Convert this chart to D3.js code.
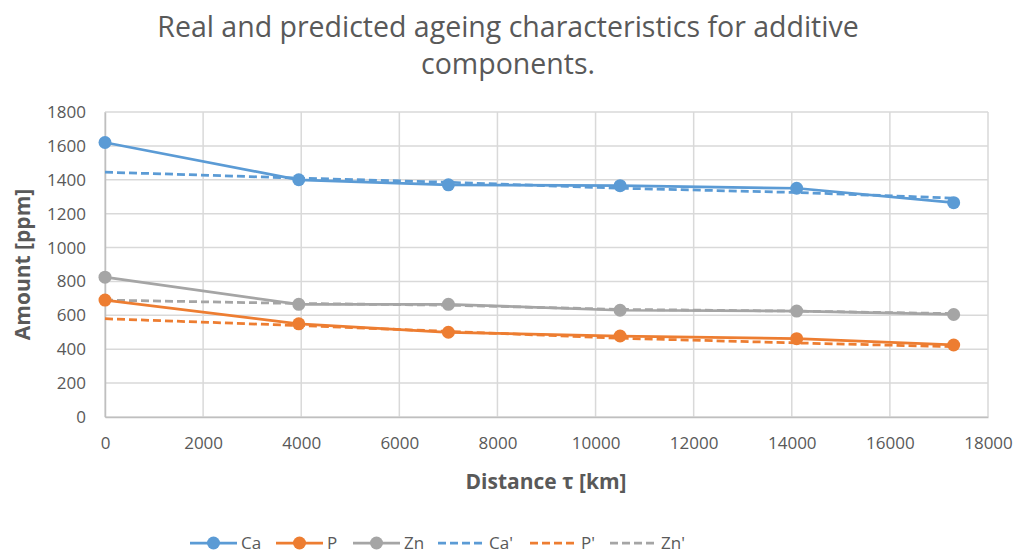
<!DOCTYPE html>
<html lang="en">
<head>
  <meta charset="UTF-8">
  <title>Real and predicted ageing characteristics</title>
  <script src="https://cdn.jsdelivr.net/npm/d3@7"></script>
  <style>
    body { margin: 0; background: #fff; }
    svg text { font-family: "Open Sans", "Liberation Sans", sans-serif; fill: #595959; }
  </style>
</head>
<body>
  <div id="chart"></div>
  <script>
    // distance in km
    const distances = [0, 3950, 7000, 10500, 14100, 17300];

    // measured amounts [ppm]
    const ca = [1620, 1400, 1370, 1365, 1350, 1265];
    const p = [690, 550, 500, 478, 462, 425];
    const zn = [825, 665, 665, 630, 625, 605];

    // predicted amounts [ppm]
    const caPred = [1445, 1410, 1385, 1350, 1325, 1292];
    const pPred = [580, 540, 505, 465, 437, 415];
    const znPred = [690, 670, 660, 635, 625, 610];

    const xTicks = [0, 2000, 4000, 6000, 8000, 10000, 12000, 14000, 16000, 18000];
    const yTicks = [0, 200, 400, 600, 800, 1000, 1200, 1400, 1600, 1800];

    const series = [
      { name: 'Ca', values: ca, color: '#5b9bd5', dashed: false },
      { name: 'P', values: p, color: '#ed7d31', dashed: false },
      { name: 'Zn', values: zn, color: '#a5a5a5', dashed: false },
      { name: "Ca'", values: caPred, color: '#5b9bd5', dashed: true },
      { name: "P'", values: pPred, color: '#ed7d31', dashed: true },
      { name: "Zn'", values: znPred, color: '#a5a5a5', dashed: true }
    ];

    const width = 1019, height = 555;
    const margin = { left: 105, right: 31, top: 112, bottom: 138 };

    const svg = d3.select('#chart').append('svg')
      .attr('width', width)
      .attr('height', height);

    const x = d3.scaleLinear().domain([0, 18000]).range([margin.left, width - margin.right]);
    const y = d3.scaleLinear().domain([0, 1800]).range([height - margin.bottom, margin.top]);

    // title
    const title = svg.append('text')
      .attr('text-anchor', 'middle')
      .attr('font-size', 28.5)
      .attr('x', 508);
    title.append('tspan').attr('x', 508).attr('y', 37).text('Real and predicted ageing characteristics for additive');
    title.append('tspan').attr('x', 508).attr('y', 74).text('components.');

    // gridlines
    svg.append('g')
      .selectAll('line')
      .data(yTicks)
      .join('line')
      .attr('x1', x(0)).attr('x2', x(18000))
      .attr('y1', d => y(d)).attr('y2', d => y(d))
      .attr('stroke', '#d9d9d9').attr('stroke-width', 1.5);

    svg.append('g')
      .selectAll('line')
      .data(xTicks)
      .join('line')
      .attr('y1', y(0)).attr('y2', y(1800))
      .attr('x1', d => x(d)).attr('x2', d => x(d))
      .attr('stroke', '#d9d9d9').attr('stroke-width', 1.5);

    // axes
    const xAxis = svg.append('g')
      .attr('transform', `translate(0,${y(0)})`)
      .call(d3.axisBottom(x).tickValues(xTicks).tickSize(0).tickPadding(20).tickFormat(d3.format('d')));
    xAxis.select('.domain').attr('stroke', '#bfbfbf').attr('stroke-width', 1.5);
    xAxis.selectAll('text').attr('font-size', 17);

    const yAxis = svg.append('g')
      .attr('transform', `translate(${x(0)},0)`)
      .call(d3.axisLeft(y).tickValues(yTicks).tickSize(0).tickPadding(19).tickFormat(d3.format('d')));
    yAxis.select('.domain').attr('stroke', '#bfbfbf').attr('stroke-width', 1.5);
    yAxis.selectAll('text').attr('font-size', 17);

    // axis titles
    svg.append('text')
      .attr('x', 546).attr('y', 489)
      .attr('text-anchor', 'middle')
      .attr('font-size', 21).attr('font-weight', 'bold')
      .text('Distance τ [km]');

    svg.append('text')
      .attr('transform', `translate(30,${(y(0) + y(1800)) / 2}) rotate(-90)`)
      .attr('text-anchor', 'middle')
      .attr('font-size', 21).attr('font-weight', 'bold')
      .text('Amount [ppm]');

    // lines
    const line = d3.line()
      .x((d, i) => x(distances[i]))
      .y(d => y(d));

    const drawOrder = [3, 4, 5, 0, 1, 2];
    drawOrder.forEach(k => {
      const s = series[k];
      svg.append('path')
        .datum(s.values)
        .attr('d', line)
        .attr('fill', 'none')
        .attr('stroke', s.color)
        .attr('stroke-width', 2.75)
        .attr('stroke-dasharray', s.dashed ? '8,4' : null);
      if (!s.dashed) {
        svg.append('g')
          .selectAll('circle')
          .data(s.values)
          .join('circle')
          .attr('cx', (d, i) => x(distances[i]))
          .attr('cy', d => y(d))
          .attr('r', 6.5)
          .attr('fill', s.color);
      }
    });

    // legend
    const legendX = [190, 276, 353, 438, 530, 610];
    const legendY = 543;
    const legend = svg.append('g')
      .selectAll('g')
      .data(series)
      .join('g')
      .attr('transform', (d, i) => `translate(${legendX[i]},${legendY})`);

    legend.append('line')
      .attr('x1', 0).attr('x2', 47)
      .attr('stroke', d => d.color)
      .attr('stroke-width', 2.75)
      .attr('stroke-dasharray', d => d.dashed ? '8,4' : null);

    legend.filter(d => !d.dashed).append('circle')
      .attr('cx', 23.5).attr('r', 6.5)
      .attr('fill', d => d.color);

    legend.append('text')
      .attr('x', 51).attr('dy', '0.35em')
      .attr('font-size', 17)
      .text(d => d.name);
  </script>
</body>
</html>
